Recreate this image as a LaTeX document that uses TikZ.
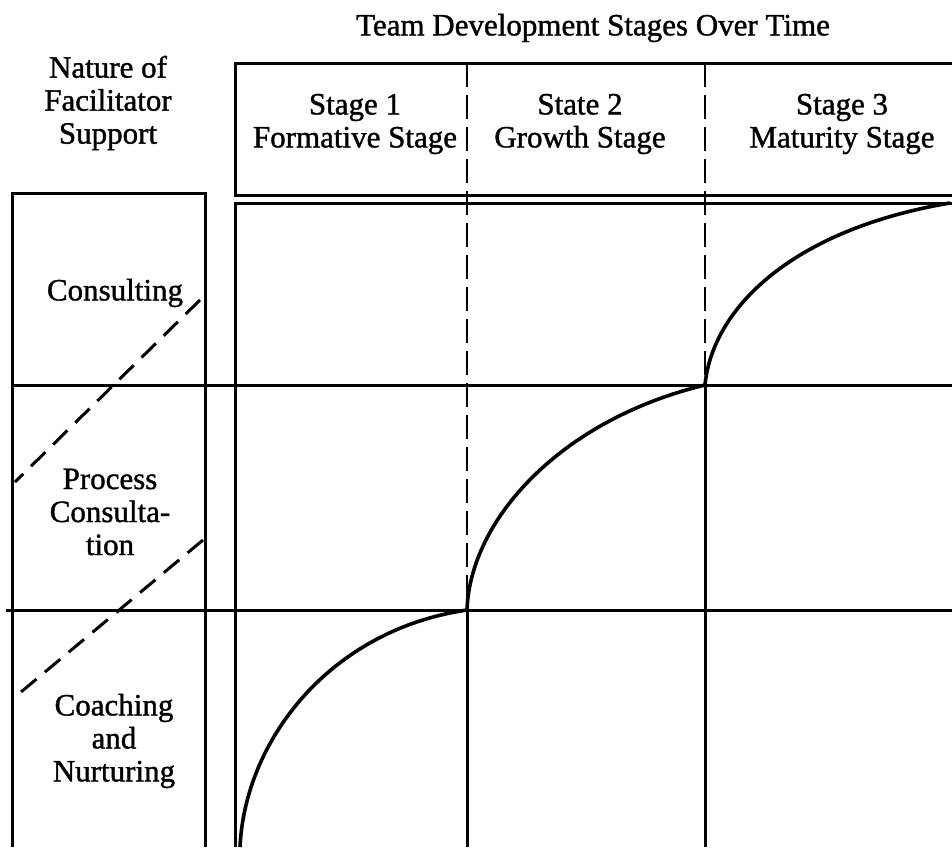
\documentclass[tikz,border=0pt]{standalone}
\usepackage{fontspec}
\setmainfont{Liberation Serif}[FakeBold=1.2]
\begin{document}
\begin{tikzpicture}[x=1pt,y=-1pt,
  lab/.style={align=center,font=\fontsize{31}{33}\selectfont,inner sep=0pt},
  gridline/.style={line width=3pt},
  dashv/.style={line width=2.6pt,dash pattern=on 24pt off 8pt},
  dashd/.style={line width=3pt,dash pattern=on 20pt off 11pt},
  curve/.style={line width=3.6pt}]
\useasboundingbox (0,0) rectangle (952,847);
% titles
\node[lab] (title) at (593,28) {Team Development Stages Over Time};
\node[lab] (lefthead) at (108,103) {Nature of\\Facilitator\\Support};
\node[lab] (s1) at (355,124) {Stage 1\\Formative Stage};
\node[lab] (s2) at (580,124) {State 2\\Growth Stage};
\node[lab] (s3) at (842,124) {Stage 3\\Maturity Stage};
\node[lab] (consulting) at (115,293) {Consulting};
\node[lab] (process) at (110,512) {Process\\Consulta-\\tion};
\node[lab] (coaching) at (114,741) {Coaching\\and\\Nurturing};
% header box
\draw[gridline] (952,63) -- (235,63) -- (235,195) -- (952,195);
% grid
\draw[gridline] (952,203) -- (235,203) -- (235,847);
\coordinate (L1) at (467,610);
\coordinate (L2) at (705,385);
\coordinate (start) at (240,847);
\coordinate (finish) at (950,203);
% horizontal lines (across left box and grid)
\draw[gridline] (12,385) -- (952,385);
\draw[gridline] (6,610) -- (952,610);
% left box
\draw[gridline] (12,847) -- (12,193) -- (205,193) -- (205,847);
% vertical stage dividers
\draw[dashv] (467,63) -- (L1);
\draw[gridline] (L1) -- (467,847);
\draw[dashv] (705,63) -- (L2);
\draw[gridline] (L2) -- (705,847);
% dashed diagonals in left box
\draw[dashd] (200,300) -- (15,482);
\draw[dashd] (203,540) -- (15,697);
% curve
\draw[curve] (start) .. controls (245,740) and (330,630) .. (L1)
  .. controls (470,520) and (560,420) .. (L2)
  .. controls (712,310) and (790,230) .. (finish);
\end{tikzpicture}
\end{document}
